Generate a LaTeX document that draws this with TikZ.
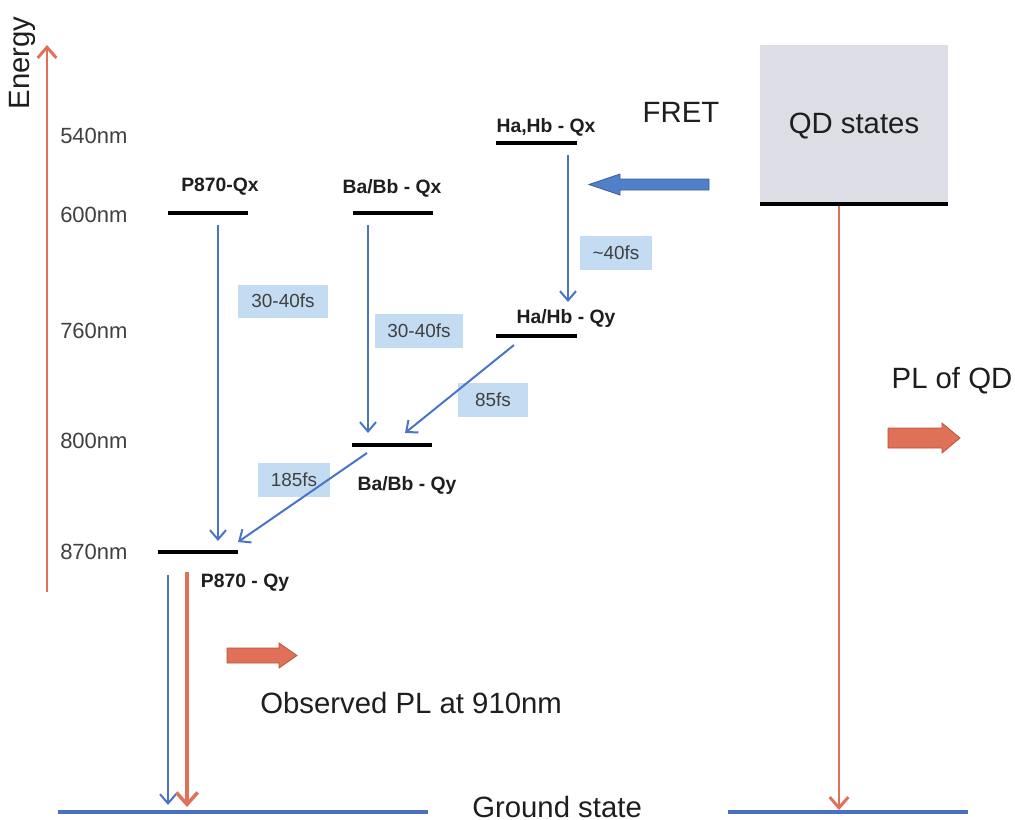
\documentclass[tikz,border=0pt]{standalone}
\usepackage{fontspec}
\setmainfont{Liberation Sans}
\usetikzlibrary{arrows.meta}
\definecolor{bl}{HTML}{4A74C8}
\definecolor{gbl}{HTML}{4A70C2}
\definecolor{org}{HTML}{E07058}
\definecolor{orgdark}{HTML}{B85540}
\definecolor{fsbox}{HTML}{C4DCF2}
\definecolor{qdgray}{HTML}{DDDDE5}
\definecolor{fretblue}{HTML}{5080C8}
\definecolor{fretdark}{HTML}{3A5F9F}
\definecolor{txt}{HTML}{1E1E1E}
\begin{document}
\begin{tikzpicture}[x=0.75pt,y=-0.75pt,
  lvlnode/.style={fill=black, inner sep=0pt, minimum height=3pt},
  lbl/.style={font=\fontsize{14.5}{16}\selectfont\bfseries, text=txt, inner sep=0pt, anchor=base},
  nm/.style={font=\fontsize{16.5}{18}\selectfont, text=txt!85, anchor=west, inner sep=0pt},
  big/.style={font=\fontsize{22}{24}\selectfont, text=txt, inner sep=0pt},
  fsnode/.style={fill=fsbox, font=\fontsize{14.2}{16}\selectfont, text=txt!85, inner sep=0pt},
  barrow/.style={bl, line width=1.5pt, -{Straight Barb[length=7pt,width=12pt,line width=1.5pt]}},
  oarrow/.style={org, line width=2.2pt, -{Straight Barb[length=8pt,width=14pt,line width=2.2pt]}},
  gline/.style={gbl, line width=3pt},
  blockarrow/.style={fill=org, draw=orgdark, line width=0.6pt, line join=miter},
]
\useasboundingbox (0,0) rectangle (1015,819);
\fill[white] (0,0) rectangle (1015,819);

% Energy axis
\coordinate (eb) at (47,592);
\coordinate (et) at (47,45);
\draw[oarrow] (eb) -- (et);
\node[big, rotate=90] (energy) at (22,63) {Energy};

% wavelength labels
\node[nm] (n540) at (60,136) {540nm};
\node[nm] (n600) at (60,215) {600nm};
\node[nm] (n760) at (60,331) {760nm};
\node[nm] (n800) at (60,441) {800nm};
\node[nm] (n870) at (60,552) {870nm};

% QD box
\node[fill=qdgray, inner sep=0pt, minimum width=141pt, minimum height=118.5pt] (qdbox) at (854,124) {};
\node[big] (qdtext) at (854,126) {QD states};
\node[lvlnode, minimum width=141pt] (qdlvl) at (854,204) {};

% levels
\node[lvlnode, minimum width=60pt] (p870qx) at (208,213) {};
\node[lvlnode, minimum width=60pt] (babbqx) at (393,213) {};
\node[lvlnode, minimum width=61pt] (hahbqx) at (536.5,143) {};
\node[lvlnode, minimum width=61pt] (hahbqy) at (536.5,336) {};
\node[lvlnode, minimum width=60pt] (babbqy) at (392,445) {};
\node[lvlnode, minimum width=60pt] (p870qy) at (198,552) {};

% level labels
\node[lbl] (lp870qx) at (220,191) {P870-Qx};
\node[lbl] (lbabbqx) at (392,193) {Ba/Bb - Qx};
\node[lbl] (lhahbqx) at (546,132) {Ha,Hb - Qx};
\node[lbl] (lhahbqy) at (566,323) {Ha/Hb - Qy};
\node[lbl] (lbabbqy) at (407,490) {Ba/Bb - Qy};
\node[lbl] (lp870qy) at (245,587) {P870 - Qy};

% time boxes
\node[fsnode, minimum width=67.5pt, minimum height=24.75pt] (t1) at (283,301) {30-40fs};
\node[fsnode, minimum width=66pt, minimum height=26pt] (t2) at (419,331) {30-40fs};
\node[fsnode, minimum width=52.5pt, minimum height=26pt] (t3) at (493,400) {85fs};
\node[fsnode, minimum width=54pt, minimum height=26pt] (t4) at (294,480) {185fs};
\node[fsnode, minimum width=54pt, minimum height=26pt] (t5) at (616,253) {\textasciitilde 40fs};

% transfer arrows
\coordinate (a1s) at (218,225); \coordinate (a1e) at (218,541);
\coordinate (a2s) at (368,225); \coordinate (a2e) at (368,433);
\coordinate (a3s) at (568,155); \coordinate (a3e) at (568,302);
\coordinate (a4s) at (514,345); \coordinate (a4e) at (405,433);
\coordinate (a5s) at (367,453); \coordinate (a5e) at (238,542);
\draw[barrow] (a1s) -- (a1e);
\draw[barrow] (a2s) -- (a2e);
\draw[barrow] (a3s) -- (a3e);
\draw[barrow] (a4s) -- (a4e);
\draw[barrow] (a5s) -- (a5e);

% ground lines
\coordinate (g1a) at (58,812); \coordinate (g1b) at (428,812);
\coordinate (g2a) at (728,812); \coordinate (g2b) at (968,812);
\draw[gline] (g1a) -- (g1b);
\draw[gline] (g2a) -- (g2b);
\node[big, anchor=base west] (ground) at (472,817) {Ground state};

% decay arrows from P870-Qy
\coordinate (d1s) at (168,575); \coordinate (d1e) at (168,805);
\coordinate (d2s) at (187,572); \coordinate (d2e) at (187,807);
\draw[barrow] (d1s) -- (d1e);
\draw[org, line width=3pt, -{Straight Barb[length=9pt,width=16pt,line width=2.6pt]}] (d2s) -- (d2e);

% QD emission arrow
\coordinate (q1s) at (839,206); \coordinate (q1e) at (839,810);
\draw[oarrow] (q1s) -- (q1e);

% FRET arrow
\draw[fill=fretblue, draw=fretdark, line width=0.6pt, line join=miter]
  (709,179) -- (620,179) -- (620,174) -- (589,184.5) -- (620,195) -- (620,190) -- (709,190) -- cycle;
\node[big, anchor=base] (fret) at (681,122) {FRET};

% PL block arrows
\draw[blockarrow] (227,648) -- (279,648) -- (279,643) -- (297,655.5) -- (279,668) -- (279,663) -- (227,663) -- cycle;
\node[big, anchor=base west] (obs) at (260,713) {Observed PL at 910nm};
\draw[blockarrow] (888,428) -- (942,428) -- (942,423) -- (960,438) -- (942,453) -- (942,448) -- (888,448) -- cycle;
\node[big, anchor=base] (plqd) at (952,388) {PL of QD};
\end{tikzpicture}
\end{document}
